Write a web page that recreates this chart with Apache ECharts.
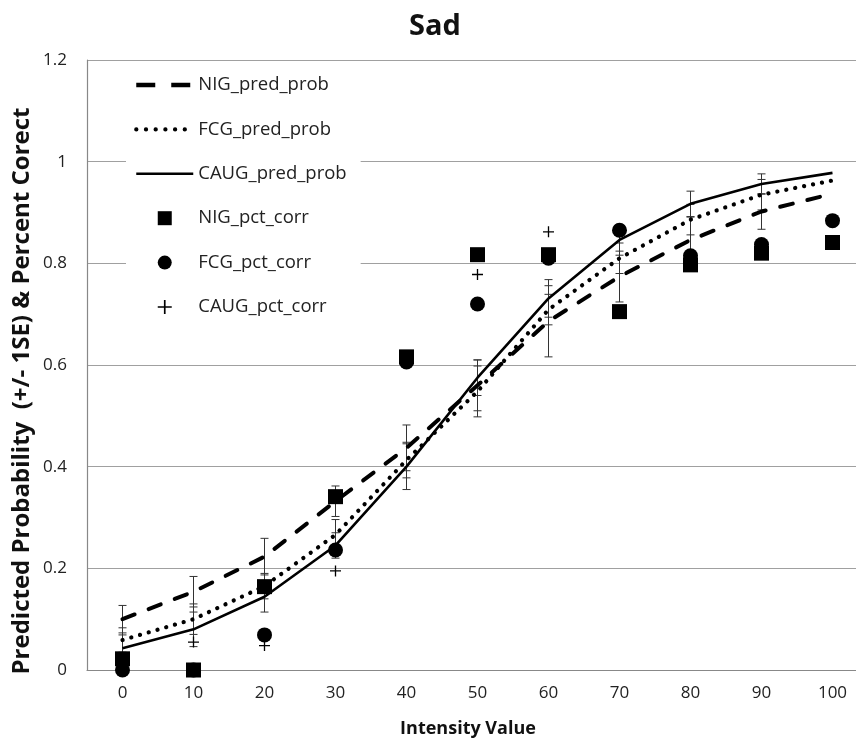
<!DOCTYPE html>
<html>
<head>
<meta charset="utf-8">
<script src="https://cdn.jsdelivr.net/npm/echarts@6/dist/echarts.min.js"></script>
<style>
html,body{margin:0;padding:0;background:#fff;}
#chart{width:856px;height:743px;}
</style>
</head>
<body>
<div id="chart"></div>
<script>
const categories = ['0','10','20','30','40','50','60','70','80','90','100'];
const yTicks = [0, 0.2, 0.4, 0.6, 0.8, 1, 1.2];

const nigPred  = [0.100, 0.154, 0.223, 0.332, 0.437, 0.560, 0.686, 0.774, 0.846, 0.902, 0.937];
const fcgPred  = [0.059, 0.100, 0.165, 0.266, 0.413, 0.548, 0.709, 0.810, 0.886, 0.935, 0.963];
const caugPred = [0.043, 0.080, 0.144, 0.245, 0.400, 0.575, 0.731, 0.846, 0.917, 0.956, 0.978];

const nigSE  = [0.027, 0.030, 0.036, 0.030, 0.045, 0.050, 0.070, 0.050, 0.045, 0.035, null];
const fcgSE  = [0.024, 0.030, 0.025, 0.030, 0.035, 0.050, 0.030, 0.030, 0.030, 0.030, null];
const caugSE = [0.026, 0.034, 0.030, 0.025, 0.045, 0.035, 0.037, 0.030, 0.025, 0.020, null];

const nigPct  = [0.022, 0.000, 0.164, 0.341, 0.616, 0.817, 0.817, 0.705, 0.797, 0.820, 0.841];
const fcgPct  = [0.000, 0.000, 0.069, 0.236, 0.606, 0.720, 0.810, 0.865, 0.815, 0.837, 0.884];
const caugPct = [0.000, 0.055, 0.048, 0.195, 0.610, 0.778, 0.862, 0.862, 0.810, 0.830, 0.884];

const FONT = '"Open Sans", "DejaVu Sans", sans-serif';
const PLUS = 'path://M4.4,0H5.6V4.4H10V5.6H5.6V10H4.4V5.6H0V4.4H4.4Z';
const SQUARE = 'path://M0,0H10V10H0Z';

function errData(pred, se) {
  const out = [];
  pred.forEach((v, i) => {
    if (se[i] != null) out.push([i, v - se[i], v + se[i]]);
  });
  return out;
}

function renderErr(params, api) {
  const lo = api.coord([api.value(0), api.value(1)]);
  const hi = api.coord([api.value(0), api.value(2)]);
  const w = 4;
  const st = { stroke: '#333', lineWidth: 1 };
  return {
    type: 'group',
    children: [
      { type: 'line', shape: { x1: lo[0], y1: lo[1], x2: hi[0], y2: hi[1] }, style: st },
      { type: 'line', shape: { x1: lo[0] - w, y1: lo[1], x2: lo[0] + w, y2: lo[1] }, style: st },
      { type: 'line', shape: { x1: hi[0] - w, y1: hi[1], x2: hi[0] + w, y2: hi[1] }, style: st }
    ]
  };
}

const chart = echarts.init(document.getElementById('chart'), null, { renderer: 'canvas' });

const hideSym = { color: 'rgba(0,0,0,0)', borderColor: 'rgba(0,0,0,0)', borderWidth: 0, opacity: 0 };

const option = {
  backgroundColor: '#fff',
  animation: false,
  textStyle: { fontFamily: FONT },
  grid: { left: 87, top: 60, width: 781, height: 610, containLabel: false, outerBoundsMode: 'none' },
  xAxis: {
    type: 'category',
    data: categories,
    boundaryGap: true,
    axisLine: { show: true, lineStyle: { color: '#888', width: 1.2 } },
    axisTick: { show: false },
    axisLabel: { color: '#222', fontSize: 17, fontFamily: FONT, margin: 15 },
    splitLine: { show: false }
  },
  yAxis: {
    type: 'value',
    min: yTicks[0],
    max: yTicks[yTicks.length - 1],
    interval: 0.2,
    axisLine: { show: true, lineStyle: { color: '#888', width: 1.2 } },
    axisTick: { show: false },
    axisLabel: {
      color: '#222', fontSize: 17, fontFamily: FONT, margin: 20,
      formatter: v => String(Math.round(v * 10) / 10)
    },
    splitLine: { show: true, lineStyle: { color: '#a0a0a0', width: 1.2 } }
  },
  legend: {
    orient: 'vertical',
    left: 126,
    top: 67,
    padding: [8, 14, 8, 8],
    backgroundColor: '#fff',
    itemWidth: 57,
    itemHeight: 14,
    itemGap: 24.4,
    symbolKeepAspect: true,
    textStyle: { color: '#222', fontSize: 18.5, fontFamily: FONT, lineHeight: 20 },
    data: [
      { name: 'NIG_pred_prob', itemStyle: hideSym, lineStyle: { color: '#000', width: 4.5, type: [19, 16], cap: 'butt' } },
      { name: 'FCG_pred_prob', itemStyle: hideSym, lineStyle: { color: '#000', width: 4.2, type: [0.1, 9.6], cap: 'round' } },
      { name: 'CAUG_pred_prob', itemStyle: hideSym, lineStyle: { color: '#000', width: 2.6, type: 'solid' } },
      { name: 'NIG_pct_corr' },
      { name: 'FCG_pct_corr' },
      { name: 'CAUG_pct_corr' }
    ]
  },
  graphic: [
    { type: 'text', x: 435, y: 27, style: { text: 'Sad', fill: '#111', font: 'bold 29px ' + FONT, textAlign: 'center', textVerticalAlign: 'middle' } },
    { type: 'text', x: 468, y: 729, style: { text: 'Intensity Value', fill: '#111', font: 'bold 18px ' + FONT, textAlign: 'center', textVerticalAlign: 'middle' } },
    { type: 'text', x: 22, y: 391, rotation: Math.PI / 2, style: { text: 'Predicted Probability  (+/- 1SE) & Percent Corect', fill: '#111', font: 'bold 24px ' + FONT, textAlign: 'center', textVerticalAlign: 'middle' } }
  ],
  series: [
    { type: 'custom', name: 'nig_se', renderItem: renderErr, encode: { x: 0, y: [1, 2] }, data: errData(nigPred, nigSE), z: 1, silent: true },
    { type: 'custom', name: 'fcg_se', renderItem: renderErr, encode: { x: 0, y: [1, 2] }, data: errData(fcgPred, fcgSE), z: 1, silent: true },
    { type: 'custom', name: 'caug_se', renderItem: renderErr, encode: { x: 0, y: [1, 2] }, data: errData(caugPred, caugSE), z: 1, silent: true },
    {
      name: 'NIG_pred_prob', type: 'line', data: nigPred, symbol: 'none', z: 2,
      itemStyle: { color: '#000' },
      lineStyle: { color: '#000', width: 4, type: [13, 15], cap: 'round' }
    },
    {
      name: 'FCG_pred_prob', type: 'line', data: fcgPred, symbol: 'none', z: 2,
      itemStyle: { color: '#000' },
      lineStyle: { color: '#000', width: 4.2, type: [0.1, 9], cap: 'round' }
    },
    {
      name: 'CAUG_pred_prob', type: 'line', data: caugPred, symbol: 'none', z: 2,
      itemStyle: { color: '#000' },
      lineStyle: { color: '#000', width: 2.6, type: 'solid' }
    },
    { name: 'NIG_pct_corr', type: 'scatter', data: nigPct, symbol: SQUARE, symbolSize: 15, z: 3, itemStyle: { color: '#000', opacity: 1 } },
    { name: 'FCG_pct_corr', type: 'scatter', data: fcgPct, symbol: 'circle', symbolSize: 15, z: 3, itemStyle: { color: '#000', opacity: 1 } },
    { name: 'CAUG_pct_corr', type: 'scatter', data: caugPct, symbol: PLUS, symbolSize: 11, z: 3, itemStyle: { color: '#000', opacity: 1 } }
  ]
};

chart.setOption(option);
</script>
</body>
</html>
